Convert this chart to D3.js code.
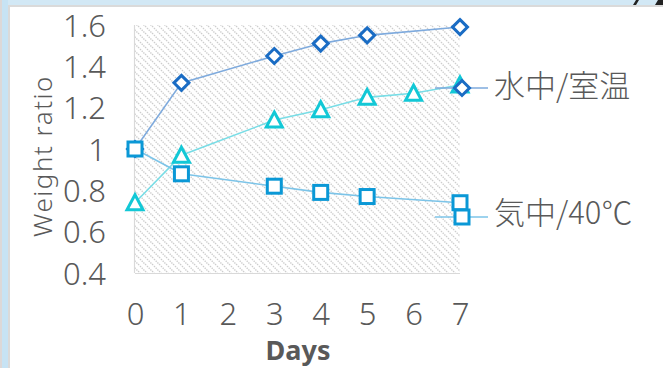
<!DOCTYPE html>
<html><head><meta charset="utf-8">
<script src="https://cdn.jsdelivr.net/npm/d3@7"></script>
<style>
html,body{margin:0;padding:0;background:#fff;}
svg{display:block;}
</style></head>
<body>
<svg id="c" width="663" height="368"></svg>
<script>
// ---- data ----
const days = [0, 1, 2, 3, 4, 5, 6, 7];
const yTicks = [0.4, 0.6, 0.8, 1.0, 1.2, 1.4, 1.6];
const yTickLabels = ["0.4", "0.6", "0.8", "1", "1.2", "1.4", "1.6"];
const waterDays = [0, 1, 3, 4, 5, 7];
const waterRoom = [1.00, 1.32, 1.45, 1.51, 1.55, 1.59];
const triDays = [0, 1, 3, 4, 5, 6, 7];
const triSeries = [0.74, 0.97, 1.14, 1.19, 1.25, 1.27, 1.31];
const airDays = [0, 1, 3, 4, 5, 7];
const air40 = [1.00, 0.88, 0.82, 0.79, 0.77, 0.74];
const legendNames = ["水中/室温", "気中/40℃"];
const xTitle = "Days";
const yTitle = "Weight ratio";

// ---- layout ----
const svg = d3.select("#c");
const W = 663, H = 368;
const plot = {l: 135, r: 460, t: 25, b: 273};
const x = d3.scaleLinear().domain([0, 7]).range([plot.l, plot.r]);
const y = d3.scaleLinear().domain([0.4, 1.6]).range([plot.b, plot.t]);
const textCol = "#595959";
const font = "'Noto Sans', 'DejaVu Sans', sans-serif";

// frame
svg.append("rect").attr("x", 0).attr("y", 0).attr("width", W).attr("height", H).attr("fill", "#fff");
svg.append("rect").attr("x", 0).attr("y", 0).attr("width", W).attr("height", 5).attr("fill", "#d2e8f5");
svg.append("rect").attr("x", 8).attr("y", 5).attr("width", W - 8).attr("height", 2).attr("fill", "#dadada");
svg.append("rect").attr("x", 0).attr("y", 0).attr("width", 2).attr("height", H).attr("fill", "#dcd8d8");
svg.append("rect").attr("x", 2).attr("y", 0).attr("width", 6).attr("height", H).attr("fill", "#c7e3f4");
svg.append("rect").attr("x", 8).attr("y", 5).attr("width", 2).attr("height", H - 5).attr("fill", "#dadada");
// cut-off marks top right
svg.append("path").attr("d", "M633,5 L636,0 L639,0 L636,5 Z").attr("fill", "#222");
svg.append("path").attr("d", "M655,5 L658,0 L663,0 L663,5 Z").attr("fill", "#222");

// hatch pattern
const defs = svg.append("defs");
const pat = defs.append("pattern").attr("id", "hatch").attr("patternUnits", "userSpaceOnUse")
  .attr("width", 7).attr("height", 7);
pat.append("path").attr("d", "M0,0 L7,7 M-1,6 L1,8 M6,-1 L8,1")
  .attr("stroke", "#cdcdcd").attr("stroke-width", 1.4).attr("stroke-dasharray", "1.4,1");
svg.append("rect").attr("x", plot.l).attr("y", plot.t).attr("width", plot.r - plot.l).attr("height", plot.b - plot.t)
  .attr("fill", "url(#hatch)");

// axes lines
svg.append("line").attr("x1", plot.l).attr("x2", plot.r).attr("y1", plot.b + 0.5).attr("y2", plot.b + 0.5)
  .attr("stroke", "#d9d9d9").attr("stroke-width", 1.2);
svg.append("line").attr("x1", plot.l - 0.5).attr("x2", plot.l - 0.5).attr("y1", plot.t).attr("y2", plot.b)
  .attr("stroke", "#d9d9d9").attr("stroke-width", 1.2);

// y tick labels
const yAxis = d3.axisLeft(y).tickValues(yTicks).tickSize(0).tickPadding(0)
  .tickFormat((d, i) => yTickLabels[i]);
const ga = svg.append("g").attr("transform", `translate(106,0)`).call(yAxis);
ga.select(".domain").remove();
ga.selectAll("text").attr("font-family", font).attr("font-size", 31).attr("font-weight", 300)
  .attr("fill", textCol).attr("dy", "0.36em");

// x tick labels
const xAxis = d3.axisBottom(x).tickValues(days).tickSize(0).tickPadding(0).tickFormat(d3.format("d"));
const gx = svg.append("g").attr("transform", `translate(0,303)`).call(xAxis);
gx.select(".domain").remove();
gx.selectAll("text").attr("font-family", font).attr("font-size", 31).attr("font-weight", 300)
  .attr("fill", textCol).attr("dy", "0.72em");

// titles
svg.append("text").attr("x", 298).attr("y", 360).attr("text-anchor", "middle")
  .attr("font-family", font).attr("font-size", 27).attr("font-weight", 700).attr("fill", textCol).text(xTitle);
svg.append("text").attr("transform", "translate(52,156) rotate(-90)").attr("text-anchor", "middle")
  .attr("font-family", font).attr("font-size", 26).attr("font-weight", 300).attr("letter-spacing", 1.5)
  .attr("fill", textCol).text(yTitle);

// series
const series = [
  {xs: waterDays, ys: waterRoom, line: "#7eaadd", mark: "#1a6cc4", shape: "diamond"},
  {xs: triDays, ys: triSeries, line: "#78dde6", mark: "#12c8d6", shape: "triangle"},
  {xs: airDays, ys: air40, line: "#7cc4e8", mark: "#0a98d6", shape: "square"}
];
function drawMarker(g, shape, cx, cy, col) {
  if (shape === "diamond") {
    g.append("path").attr("d", `M${cx},${cy - 7.5} L${cx + 7.5},${cy} L${cx},${cy + 7.5} L${cx - 7.5},${cy} Z`)
      .attr("fill", "#fff").attr("stroke", col).attr("stroke-width", 3);
  } else if (shape === "triangle") {
    g.append("path").attr("d", `M${cx},${cy - 8} L${cx + 8},${cy + 7} L${cx - 8},${cy + 7} Z`)
      .attr("fill", "#fff").attr("stroke", col).attr("stroke-width", 3).attr("stroke-linejoin", "miter");
  } else {
    g.append("rect").attr("x", cx - 7).attr("y", cy - 7).attr("width", 14).attr("height", 14)
      .attr("fill", "#fff").attr("stroke", col).attr("stroke-width", 3);
  }
}
const line = d3.line().x(d => x(d[0])).y(d => y(d[1]));
series.forEach(s => {
  const g = svg.append("g");
  const pts = s.xs.map((d, i) => [d, s.ys[i]]);
  g.append("path").attr("d", line(pts)).attr("fill", "none").attr("stroke", s.line).attr("stroke-width", 1.6);
  pts.forEach(p => drawMarker(g, s.shape, x(p[0]), y(p[1]), s.mark));
});

// legend
const legend = [
  {name: legendNames[0], s: series[0], cy: 88, ty: 86},
  {name: legendNames[1], s: series[2], cy: 217, ty: 213}
];
legend.forEach(L => {
  const g = svg.append("g");
  g.append("line").attr("x1", 435).attr("x2", 488).attr("y1", L.cy).attr("y2", L.cy)
    .attr("stroke", L.s.line).attr("stroke-width", 1.6);
  drawMarker(g, L.s.shape, 462, L.cy, L.s.mark);
  g.append("text").attr("x", 494).attr("y", L.ty).attr("dy", "0.36em")
    .attr("font-family", "'Noto Sans CJK JP', 'Noto Sans', sans-serif").attr("font-size", 31).attr("font-weight", 300)
    .attr("fill", textCol).text(L.name);
});
</script>
</body></html>
